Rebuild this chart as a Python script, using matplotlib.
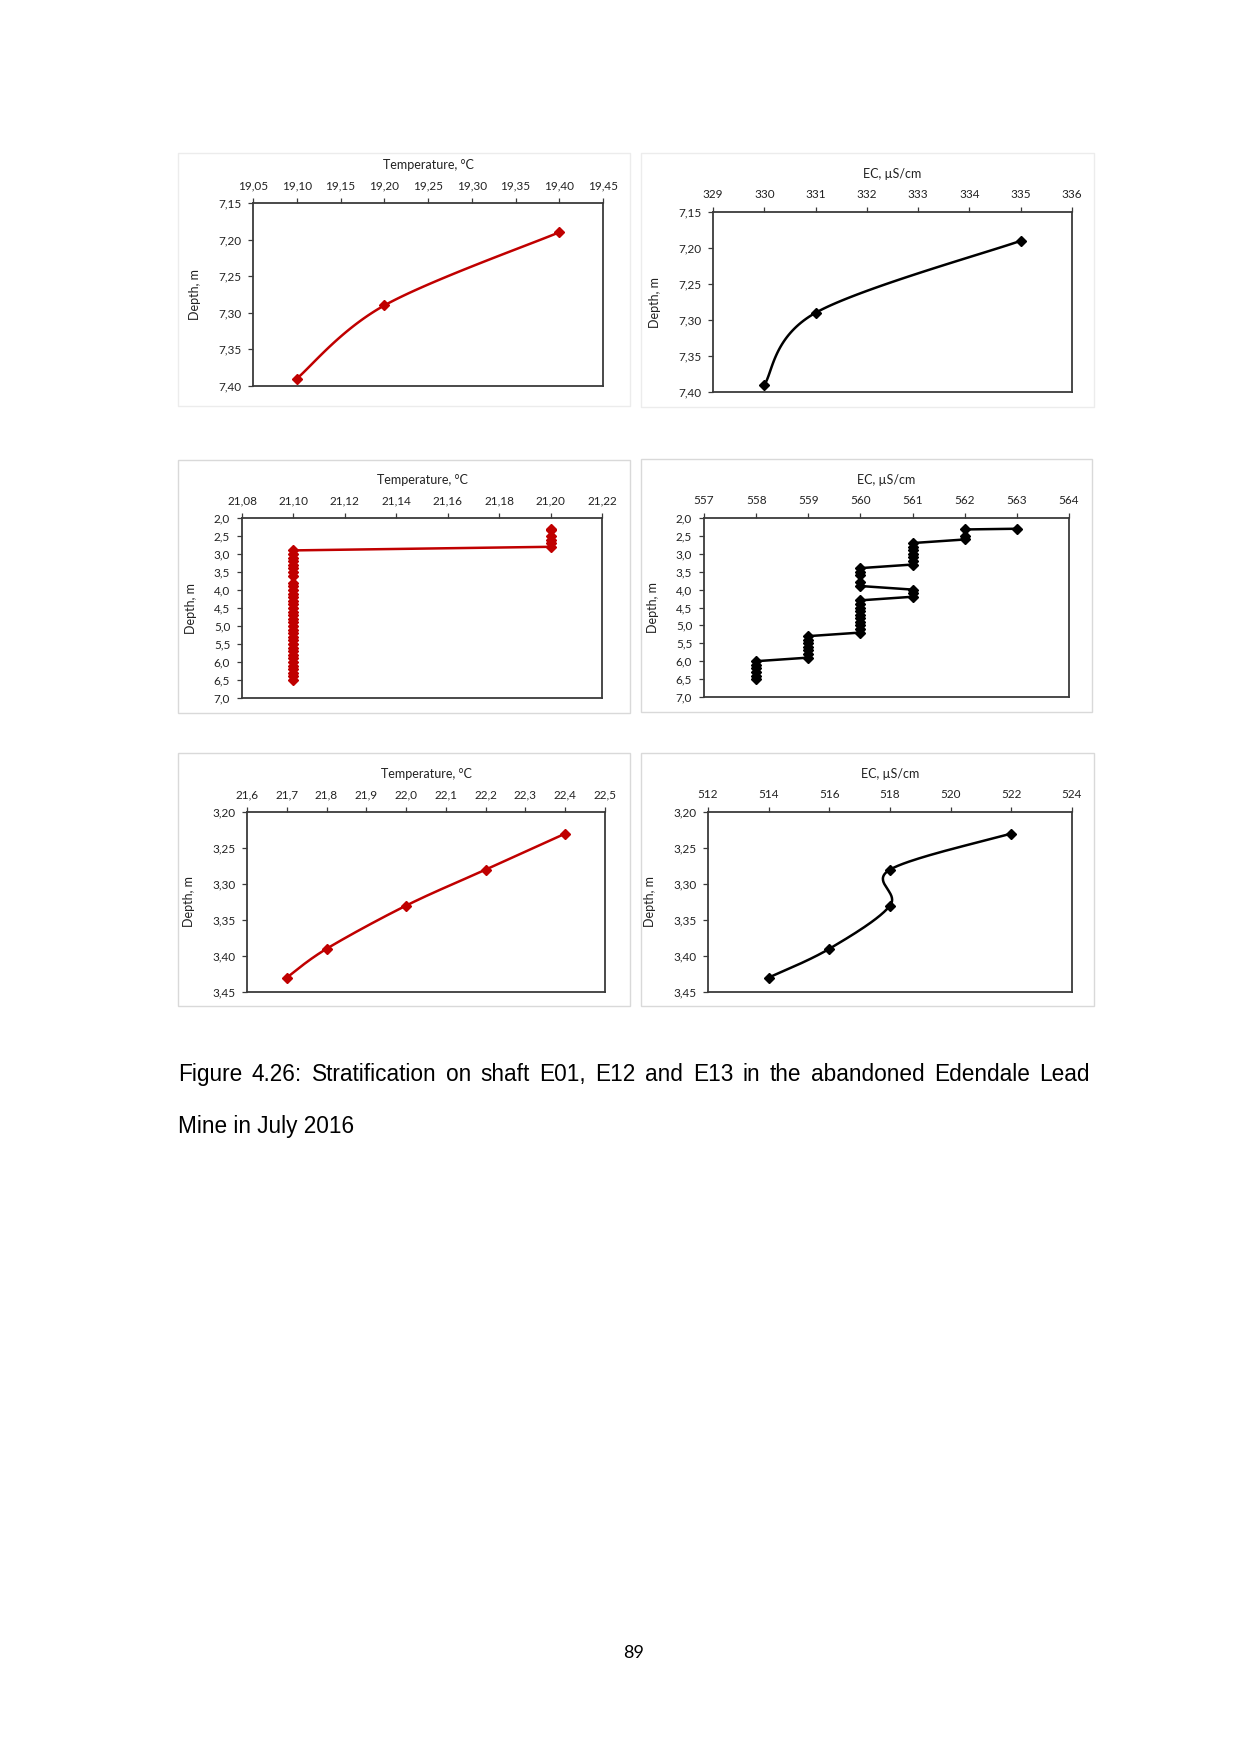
import numpy as np
import matplotlib
matplotlib.use("Agg")
import matplotlib.pyplot as plt
from matplotlib.ticker import FuncFormatter, MultipleLocator
from matplotlib.patches import Rectangle

# shaft E01
e01_temp = [19.10, 19.20, 19.40]
e01_ec = [330, 331, 335]
e01_depth = [7.39, 7.29, 7.19]

# shaft E12
e12_depth = [2.30, 2.32, 2.50, 2.60, 2.70, 2.80, 2.90, 3.00, 3.10, 3.20, 3.30,
             3.40, 3.50, 3.60, 3.80, 3.90, 4.00, 4.10, 4.20, 4.30, 4.40, 4.50,
             4.60, 4.70, 4.80, 4.90, 5.00, 5.10, 5.20, 5.30, 5.40, 5.50, 5.60,
             5.70, 5.80, 5.90, 6.00, 6.10, 6.20, 6.30, 6.40, 6.50]
e12_temp = [21.20, 21.20, 21.20, 21.20, 21.20, 21.20, 21.10, 21.10, 21.10, 21.10, 21.10,
            21.10, 21.10, 21.10, 21.10, 21.10, 21.10, 21.10, 21.10, 21.10, 21.10, 21.10,
            21.10, 21.10, 21.10, 21.10, 21.10, 21.10, 21.10, 21.10, 21.10, 21.10, 21.10,
            21.10, 21.10, 21.10, 21.10, 21.10, 21.10, 21.10, 21.10, 21.10]
e12_ec = [563, 562, 562, 562, 561, 561, 561, 561, 561, 561, 561,
          560, 560, 560, 560, 560, 561, 561, 561, 560, 560, 560,
          560, 560, 560, 560, 560, 560, 560, 559, 559, 559, 559,
          559, 559, 559, 558, 558, 558, 558, 558, 558]

# shaft E13
e13_temp = [21.7, 21.8, 22.0, 22.2, 22.4]
e13_ec = [514, 516, 518, 518, 522]
e13_depth = [3.43, 3.39, 3.33, 3.28, 3.23]

temp_title = "Temperature, °C"
ec_title = "EC, µS/cm"
caption = ("Figure 4.26: Stratification on shaft E01, E12 and E13 in the abandoned Edendale Lead",
           "Mine in July 2016")

W, H = 1241, 1754
RED = "#c00000"
AXC = "#3a3a3a"
plt.rcParams["font.family"] = ["Lato", "DejaVu Sans"]

fig = plt.figure(figsize=(W / 100, H / 100), dpi=100)


def comma(fmt):
    return FuncFormatter(lambda v, p: (fmt % v).replace(".", ","))


def box(l, r, t, b, col="#d9d9d9"):
    fig.patches.append(Rectangle((l / W, 1 - b / H), (r - l) / W, (b - t) / H,
                                 transform=fig.transFigure, fill=False,
                                 edgecolor=col, lw=1.0))


def make_ax(l, r, t, b, xlim, xstep, xfmt, ylim, ystep, yfmt, title):
    ax = fig.add_axes([l / W, 1 - b / H, (r - l) / W, (b - t) / H])
    ax.set_xlim(*xlim)
    ax.set_ylim(ylim[1], ylim[0])
    ax.xaxis.set_major_locator(MultipleLocator(xstep))
    ax.yaxis.set_major_locator(MultipleLocator(ystep))
    ax.xaxis.set_major_formatter(comma(xfmt))
    ax.yaxis.set_major_formatter(comma(yfmt))
    ax.xaxis.tick_top()
    ax.xaxis.set_label_position("top")
    ax.tick_params(direction="out", length=3.5, width=0.9, color=AXC,
                   labelsize=8.5, labelcolor="#222222")
    ax.tick_params(axis="x", pad=5)
    ax.tick_params(axis="y", pad=5)
    for s in ax.spines.values():
        s.set_color(AXC)
        s.set_linewidth(1.3)
    ax.set_xlabel(title, fontsize=9, color="#222222", labelpad=8)
    ax.set_ylabel("Depth, m", fontsize=9, color="#222222", labelpad=12)
    return ax


def smooth(ax, x, y, n=40):
    # excel-like smoothed line (bezier through the points, in pixel space)
    pts = ax.transData.transform(np.column_stack([x, y]))
    p = np.vstack([pts[0], pts, pts[-1]])
    out = []
    for i in range(1, len(p) - 2):
        p0, p1, p2, p3 = p[i - 1], p[i], p[i + 1], p[i + 2]
        c1 = p1 + (p2 - p0) / 6
        c2 = p2 - (p3 - p1) / 6
        t = np.linspace(0, 1, n)[:, None]
        seg = ((1 - t) ** 3) * p1 + 3 * ((1 - t) ** 2) * t * c1 + 3 * (1 - t) * t ** 2 * c2 + t ** 3 * p2
        out.append(seg)
    out = ax.transData.inverted().transform(np.vstack(out))
    return out[:, 0], out[:, 1]


def draw(ax, x, y, col, smoothed=True):
    if smoothed:
        sx, sy = smooth(ax, x, y)
    else:
        sx, sy = x, y
    ax.plot(sx, sy, color=col, lw=1.8, solid_capstyle="round", zorder=3)
    ax.plot(x, y, ls="none", marker="D", ms=5.5, color=col, zorder=4)


# chart area frames
box(178, 630, 153, 406, "#ececec")
box(641, 1094, 153, 407, "#ececec")
box(178, 630, 460, 713)
box(641, 1092, 459, 712)
box(178, 630, 753, 1006)
box(641, 1094, 753, 1006)

ax1 = make_ax(253, 603, 203, 386, (19.05, 19.45), 0.05, "%.2f", (7.15, 7.40), 0.05, "%.2f", temp_title)
draw(ax1, e01_temp, e01_depth, RED)

ax2 = make_ax(713, 1072, 212, 392, (329, 336), 1, "%d", (7.15, 7.40), 0.05, "%.2f", ec_title)
draw(ax2, e01_ec, e01_depth, "black")

ax3 = make_ax(242, 602, 518, 698, (21.08, 21.22), 0.02, "%.2f", (2.0, 7.0), 0.5, "%.1f", temp_title)
draw(ax3, e12_temp, e12_depth, RED, smoothed=False)

ax4 = make_ax(704, 1069, 518, 697, (557, 564), 1, "%d", (2.0, 7.0), 0.5, "%.1f", ec_title)
draw(ax4, e12_ec, e12_depth, "black", smoothed=False)

ax5 = make_ax(247, 605, 812, 992, (21.6, 22.5), 0.1, "%.1f", (3.20, 3.45), 0.05, "%.2f", temp_title)
draw(ax5, e13_temp, e13_depth, RED)

ax6 = make_ax(708, 1072, 812, 992, (512, 524), 2, "%d", (3.20, 3.45), 0.05, "%.2f", ec_title)
draw(ax6, e13_ec, e13_depth, "black")

# caption, justified first line
cap_font = ["Liberation Sans Narrow", "Liberation Sans", "DejaVu Sans"]
renderer = fig.canvas.get_renderer()
probe = fig.text(0, 0, caption[1], fontsize=16, family=cap_font)
w = probe.get_window_extent(renderer).width
probe.remove()
fs = 16 * 177 / w

x0, x1 = 178, 1090
words = caption[0].split(" ")
widths = []
for wd in words:
    t = fig.text(0, 0, wd, fontsize=fs, family=cap_font)
    widths.append(t.get_window_extent(renderer).width)
    t.remove()
gap = (x1 - x0 - sum(widths)) / (len(words) - 1)
x = x0
for wd, ww in zip(words, widths):
    fig.text(x / W, 1 - 1081 / H, wd, fontsize=fs, family=cap_font, color="black", va="baseline")
    x += ww + gap
fig.text(x0 / W, 1 - 1133 / H, caption[1], fontsize=fs, family=cap_font, color="black", va="baseline")

fig.text(634 / W, 1 - 1653 / H, "89", fontsize=13, ha="center", va="center", color="black")

fig.savefig("out.png", dpi=100, facecolor="white")
